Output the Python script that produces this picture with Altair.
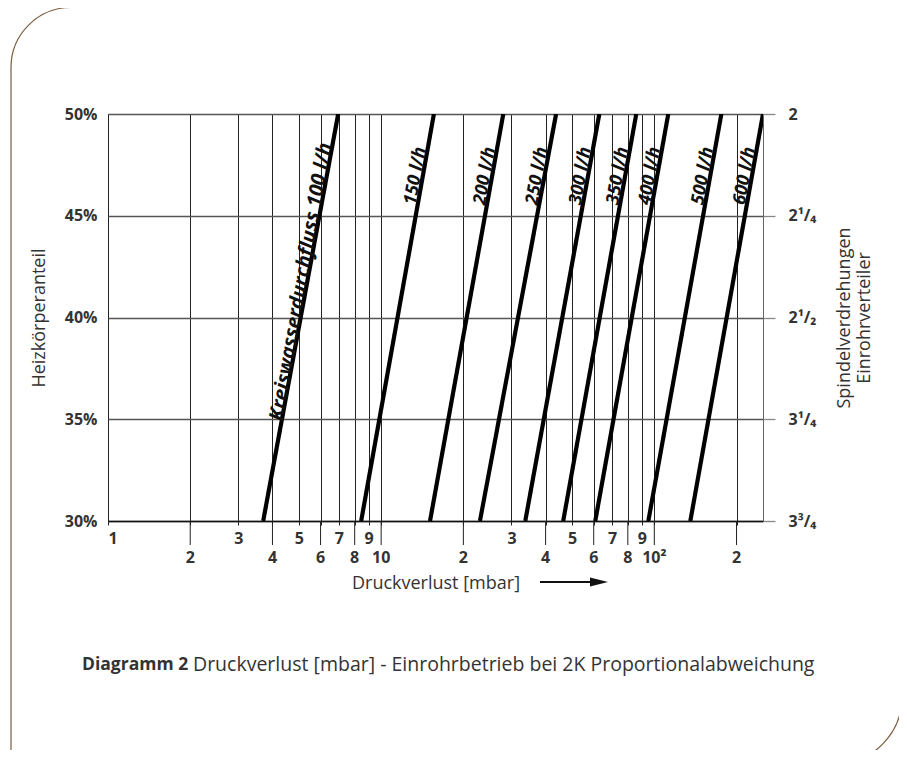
import altair as alt
import pandas as pd
import numpy as np

# ---------------- data ----------------
flows = ["100 l/h", "150 l/h", "200 l/h", "250 l/h", "300 l/h",
         "350 l/h", "400 l/h", "500 l/h", "600 l/h"]
dp_at_30 = [3.70, 8.45, 15.1, 23.0, 33.7, 46.4, 60.8, 95.1, 135.5]     # mbar at 30 %
dp_at_50 = [6.96, 15.6, 28.0, 43.7, 62.9, 85.9, 112.5, 176.0, 250.0]   # mbar at 50 %
line_labels = ["Kreiswasserdurchfluss 100 l/h", "150 l/h", "200 l/h", "250 l/h",
               "300 l/h", "350 l/h", "400 l/h", "500 l/h", "600 l/h"]
label_share = [41.7, 46.9, 46.9, 46.9, 46.9, 46.9, 46.9, 46.9, 46.9]

x_ticks = [1, 2, 3, 4, 5, 6, 7, 8, 9, 10, 20, 30, 40, 50, 60, 70, 80, 90, 100, 200]
x_tick_text = ["1", "2", "3", "4", "5", "6", "7", "8", "9", "10",
               "2", "3", "4", "5", "6", "7", "8", "9", "10²", "2"]
x_ticks_lower_row = [2, 4, 6, 8, 10, 20, 40, 60, 80, 100, 200]

y_ticks = [30, 35, 40, 45, 50]
y_left_text = ["30%", "35%", "40%", "45%", "50%"]
y_right_text = ["3³/₄", "3¹/₄", "2¹/₂", "2¹/₄", "2"]

# ---------------- tables ----------------
rows = []
for f, a, b in zip(flows, dp_at_30, dp_at_50):
    rows.append({"flow": f, "share": 30, "dp": a})
    rows.append({"flow": f, "share": 50, "dp": b})
df_lines = pd.DataFrame(rows)

lab_rows = []
for f, a, b, t, s in zip(flows, dp_at_30, dp_at_50, line_labels, label_share):
    frac = (s - 30) / 20.0
    dp = 10 ** (np.log10(a) + frac * (np.log10(b) - np.log10(a)))
    lab_rows.append({"flow": f, "label": t, "share": s, "dp": dp})
df_labels = pd.DataFrame(lab_rows)

df_lower = pd.DataFrame({
    "dp": [v for v in x_ticks if v in x_ticks_lower_row],
    "txt": [t for v, t in zip(x_ticks, x_tick_text) if v in x_ticks_lower_row],
})
upper_text = [("" if v in x_ticks_lower_row else t) for v, t in zip(x_ticks, x_tick_text)]

W, H = 655, 407
FONT = "Open Sans"
TXT = "#333333"

def arr(v):
    return "[" + ",".join(repr(x) for x in v) + "]"

x_label_expr = f"{arr(upper_text)}[indexof({arr(x_ticks)}, datum.value)]"
left_expr = f"{arr(y_left_text)}[indexof({arr(y_ticks)}, datum.value)]"
right_expr = f"{arr(y_right_text)}[indexof({arr(y_ticks)}, datum.value)]"

x_scale = alt.Scale(type="log", domain=[1, 250], nice=False)
y_scale = alt.Scale(domain=[30, 50], nice=False, zero=False)

x_axis = alt.Axis(
    values=x_ticks, labelExpr=x_label_expr, labelOverlap=False,
    title="Druckverlust [mbar]", titleFont=FONT, titleFontSize=18,
    titleFontWeight="normal", titleColor=TXT,
    titleY=62, titleBaseline="middle", titleAnchor="middle",
    labelFont=FONT, labelFontSize=16, labelFontWeight="bold", labelColor=TXT,
    labelPadding=5, tickSize=4, tickColor="#222", tickWidth=1,
    grid=True, gridColor="#222", gridWidth=1,
    domain=True, domainColor="#111", domainWidth=1.3,
)
left_axis = alt.Axis(
    values=y_ticks, labelExpr=left_expr, orient="left",
    title="Heizkörperanteil", titleFont=FONT, titleFontSize=18,
    titleFontWeight="normal", titleColor=TXT, titlePadding=16,
    labelFont=FONT, labelFontSize=16, labelFontWeight="bold", labelColor=TXT,
    labelPadding=11, ticks=False, domain=False,
    grid=True, gridColor="#555", gridWidth=1.3,
)
right_axis = alt.Axis(
    values=y_ticks, labelExpr=right_expr, orient="right",
    title=["Spindelverdrehungen", "Einrohrverteiler"], titleAngle=270,
    titleFont=FONT, titleFontSize=18, titleFontWeight="normal", titleColor=TXT,
    titlePadding=18,
    labelFont=FONT, labelFontSize=16, labelFontWeight="bold", labelColor=TXT,
    labelPadding=13, tickSize=12, tickColor="#888", tickWidth=1.3,
    domain=False, grid=False,
)

X = alt.X("dp:Q", scale=x_scale, axis=x_axis)

lines = alt.Chart(df_lines).mark_line(
    color="black", strokeWidth=4.2, strokeCap="butt", clip=True
).encode(
    x=X,
    y=alt.Y("share:Q", scale=y_scale, axis=left_axis),
    detail="flow:N",
)

# lower row of x tick marks and labels (longer ticks)
lower_ticks = alt.Chart(df_lower).mark_rule(color="#222", strokeWidth=1).encode(
    x=X, y=alt.value(H), y2=alt.value(H + 24)
)
lower_text = alt.Chart(df_lower).mark_text(
    font=FONT, fontSize=16, fontWeight="bold", color=TXT,
    align="center", baseline="top",
).encode(x=X, y=alt.value(H + 29), text="txt:N")

txt_common = dict(angle=280, font=FONT, fontWeight="bold",
                  fontStyle="italic", color="#111", align="center")

labels_main = alt.Chart(df_labels).transform_filter(
    alt.datum.flow != flows[0]
).mark_text(baseline="alphabetic", dy=-2, fontSize=18, **txt_common).encode(
    x=X,
    y=alt.Y("share:Q", scale=y_scale, axis=right_axis),
    text="label:N",
)
labels_first = alt.Chart(df_labels).transform_filter(
    alt.datum.flow == flows[0]
).mark_text(baseline="middle", dy=-6, fontSize=20, **txt_common).encode(
    x=X,
    y=alt.Y("share:Q", scale=y_scale, axis=None),
    text="label:N",
)

one = pd.DataFrame({"k": [0]})

# decorative frame (rounded top-left and bottom-right corners)
frame = alt.Chart(one).mark_rect(
    fill="transparent", stroke="#7a5c3e", strokeWidth=1.2,
    cornerRadiusTopLeft=60, cornerRadiusBottomRight=67,
).encode(
    x=alt.value(11 - 108), x2=alt.value(902 - 108),
    y=alt.value(7.5 - 114), y2=alt.value(764 - 114),
)

# arrow beside the x-axis title
arrow_shaft = alt.Chart(one).mark_rule(color="#111", strokeWidth=2).encode(
    x=alt.value(432), x2=alt.value(486), y=alt.value(468)
)
arrow_head = alt.Chart(one).mark_point(
    shape="M-1,-0.5L1,0L-1,0.5Z", filled=True, color="#111", size=324, opacity=1
).encode(x=alt.value(491), y=alt.value(468))

caption_bold = alt.Chart(one).mark_text(
    text="Diagramm 2", font=FONT, fontSize=17.5, fontWeight="bold", color=TXT,
    align="left", baseline="middle",
).encode(x=alt.value(82 - 108), y=alt.value(665 - 114))
caption_rest = alt.Chart(one).mark_text(
    text="Druckverlust [mbar] - Einrohrbetrieb bei 2K Proportionalabweichung",
    font=FONT, fontSize=19.5, fontWeight="normal", color=TXT,
    align="left", baseline="middle",
).encode(x=alt.value(193 - 108), y=alt.value(665 - 114))

chart = alt.layer(
    lines, lower_ticks, lower_text, labels_main, labels_first, frame,
    arrow_shaft, arrow_head, caption_bold, caption_rest,
).resolve_scale(y="independent").properties(
    width=W, height=H,
    autosize=alt.AutoSizeParams(type="none"),
    padding={"left": 100, "top": 106, "right": 136, "bottom": 229},
    background="white",
).configure_view(stroke="#666", strokeWidth=1)

chart.save("out.html", embed_options={"renderer": "svg", "actions": False})
